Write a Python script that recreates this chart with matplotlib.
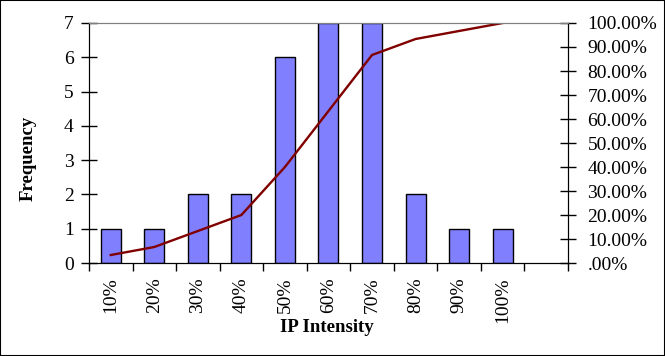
import numpy as np
import matplotlib.pyplot as plt
from matplotlib.patches import Rectangle
from matplotlib.ticker import FuncFormatter

# data
bins = ['10%', '20%', '30%', '40%', '50%', '60%', '70%', '80%', '90%', '100%']
freq = [1, 1, 2, 2, 6, 7, 7, 2, 1, 1]
cum_pct = [3.33, 6.67, 13.33, 20.0, 40.0, 63.33, 86.67, 93.33, 96.67, 100.0]

plt.rcParams['font.family'] = ['Liberation Serif', 'DejaVu Serif']
font_size = 14

fig = plt.figure(figsize=(6.65, 3.56), dpi=100)
fig.patches.append(Rectangle((0, 0), 1, 1, transform=fig.transFigure,
                             fill=False, edgecolor='black', linewidth=1.5))
ax = fig.add_axes([0.1338, 0.2612, 0.7203, 0.6742])

x = np.arange(len(bins))
ax.bar(x, freq, width=0.46, color='#8080ff', edgecolor='black', linewidth=1)
ax.set_xlim(-0.5, len(bins) + 0.5)
ax.set_ylim(0, 7)
ax.set_yticks(range(0, 8))

ax.set_xticks(x)
ax.set_xticklabels(bins, rotation=90, fontsize=font_size)
ax.set_xticks(np.arange(-0.5, len(bins) + 1), minor=True)
ax.tick_params(axis='x', which='major', length=0, pad=10.5)
ax.tick_params(axis='x', which='minor', length=6, width=1, direction='out')
ax.tick_params(axis='y', length=12, width=1, direction='inout', labelsize=font_size, pad=5)

ax.spines['top'].set_color('#808080')
for s in ['left', 'bottom', 'right']:
    ax.spines[s].set_color('black')

# axis titles placed where the reference has them
fig.text(28 / 665, 1 - 158 / 356, 'Frequency', rotation=90, fontsize=13.5,
         fontweight='bold', ha='center', va='center')
fig.text(327 / 665, 1 - 327 / 356, 'IP Intensity', fontsize=13.5,
         fontweight='bold', ha='center', va='center')

ax2 = ax.twinx()
ax2.plot(x, cum_pct, color='#800000', linewidth=1.7)
ax2.set_ylim(0, 100)
ax2.set_yticks(range(0, 101, 10))
ax2.yaxis.set_major_formatter(FuncFormatter(lambda v, p: ('%.2f%%' % v).lstrip('0') if v == 0 else '%.2f%%' % v))
ax2.tick_params(axis='y', length=12, width=1, direction='inout', labelsize=font_size, pad=8)
ax2.spines['top'].set_color('#808080')
ax2.spines['right'].set_color('black')

plt.savefig('out.png', dpi=100)
